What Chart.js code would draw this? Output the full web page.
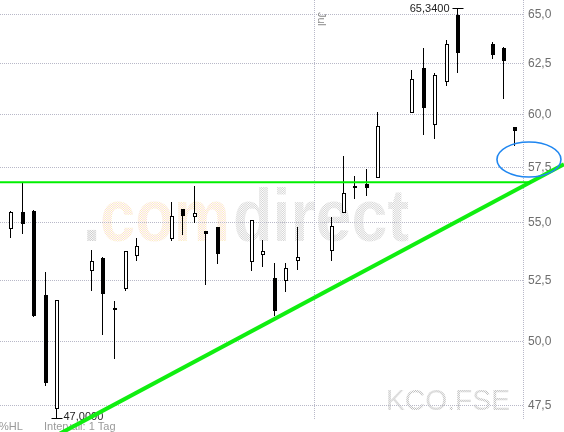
<!DOCTYPE html>
<html><head><meta charset="utf-8">
<script src="https://cdn.jsdelivr.net/npm/chart.js@4"></script>
<style>html,body{margin:0;padding:0;background:#fff;overflow:hidden}canvas{display:block}</style>
</head><body>
<canvas id="c" width="564" height="432"></canvas>
<script>
// ---- data ----
const dates = ['2007-06-04','2007-06-05','2007-06-06','2007-06-07','2007-06-08',
  '2007-06-11','2007-06-12','2007-06-13','2007-06-14','2007-06-15',
  '2007-06-18','2007-06-19','2007-06-20','2007-06-21','2007-06-22',
  '2007-06-25','2007-06-26','2007-06-27','2007-06-28','2007-06-29',
  '2007-07-02','2007-07-03','2007-07-04','2007-07-05','2007-07-06',
  '2007-07-09','2007-07-10','2007-07-11','2007-07-12','2007-07-13',
  '2007-07-16','2007-07-17','2007-07-18'];
const open  = [54.72,55.48,55.50,51.90,47.37, 52.91,53.47,51.37,52.16,53.55, 54.29,55.61,55.26,54.64,54.81, 53.30,53.60,52.62,52.49,53.34, 53.77,55.43,56.64,56.74,57.01, 60.05,62.26,59.48,61.57,64.96, 63.47,63.27,59.39];
const high  = [55.50,56.78,55.55,52.87,51.70, 53.81,53.50,51.66,53.77,54.33, 55.93,55.61,56.64,54.64,54.81, 55.12,54.24,53.25,53.25,54.81, 55.26,58.02,57.10,57.42,60.11, 62.16,63.27,62.02,63.67,65.34, 63.57,63.30,59.39];
const low   = [54.33,54.50,51.00,48.26,47.00, 52.07,50.27,49.32,52.07,53.34, 54.20,54.46,54.99,52.33,53.21, 52.91,53.08,51.04,52.03,52.96, 53.34,55.43,56.06,56.19,57.01, 60.05,59.01,58.82,61.37,62.02, 62.71,60.73,58.49];
const close = [55.49,54.95,51.05,48.37,51.70, 53.34,51.95,51.28,53.77,53.98, 55.30,55.30,55.43,54.50,53.64, 55.12,53.77,51.24,53.04,53.51, 54.85,56.33,56.55,56.55,59.44, 61.71,60.30,61.91,63.47,63.02, 62.92,62.61,59.20];
const yTicks = [47.5, 50, 52.5, 55, 57.5, 60, 62.5, 65];
const monthLabel = 'Jul';
const monthStart = '2007-07-01';
const symbol = 'KCO.FSE';
// drawn lines (x in days after first date)
const resistX = [-0.96, 45.40];
const resistY = [56.82, 56.82];
const trendX = [4.28, 48.28];
const trendY = [46.45, 57.64];
const circleX = 45.22, circleY = 57.86;

// ---- derived ----
const DAY = 86400000;
const dayOf = d => (Date.parse(d) - Date.parse(dates[0])) / DAY;
const xs = dates.map(dayOf);
const julX = dayOf(monthStart) - 0.5;
const xMin = -0.96, xMax = 44.70, yMin = 46.96, yMax = 65.75;
const fmt = (v, n) => v.toFixed(n).replace('.', ',');

const FONT = '"Liberation Sans", Arial, Helvetica, sans-serif';
Chart.defaults.font.family = FONT;

function dotPattern(ctx, c1, c2) {
  const p = document.createElement('canvas'); p.width = 2; p.height = 2;
  const g = p.getContext('2d');
  g.fillStyle = c1; g.fillRect(0, 0, 1, 1);
  g.fillStyle = c2 || c1; g.fillRect(1, 1, 1, 1);
  return ctx.createPattern(p, 'repeat');
}

const decor = {
  id: 'decor',
  afterDatasetsUpdate(chart) {
    // pixel-snap candle elements for crisp 1px wicks
    chart.data.datasets.forEach((ds, i) => {
      if (ds.type !== 'bar') return;
      const wick = ds.barThickness === 1;
      chart.getDatasetMeta(i).data.forEach(el => {
        const n = Math.floor(el.x);
        el.x = wick ? n + 0.5 : n + 1;
        el.y = Math.round(el.y); el.base = Math.round(el.base);
        if (el.base === el.y) el.base = el.y + 1;
      });
    });
  },
  beforeDraw(chart) {
    const ctx = chart.ctx;
    ctx.save();
    ctx.fillStyle = '#fff'; ctx.fillRect(0, 0, chart.width, chart.height);
    ctx.textBaseline = 'alphabetic'; ctx.textAlign = 'left';
    ctx.font = 'bold 74px ' + FONT;
    const gray = dotPattern(ctx, '#d4d4d4');
    const yel = dotPattern(ctx, '#fbeabc', '#fbdcd6');
    ctx.fillStyle = dotPattern(ctx, '#c8c8c8'); ctx.fillText('.', 83, 241, 17.5);
    ctx.fillStyle = yel; ctx.fillText('com', 100, 241, 130);
    ctx.fillStyle = gray; ctx.fillText('direct', 233, 241, 176);
    ctx.font = '29px ' + FONT;
    ctx.fillStyle = dotPattern(ctx, '#bcbcbc');
    ctx.fillText(symbol, 386, 409.5, 124);
    ctx.restore();
  },
  beforeDatasetsDraw(chart) {
    const ctx = chart.ctx, sx = chart.scales.x, sy = chart.scales.y;
    ctx.save();
    ctx.font = '11px ' + FONT;
    ctx.textBaseline = 'middle';
    // high label
    let hi = high.indexOf(Math.max(...high));
    let px = Math.floor(sx.getPixelForValue(xs[hi])) + 0.5;
    let py = Math.round(sy.getPixelForValue(high[hi])) + 0.5;
    ctx.strokeStyle = '#000'; ctx.lineWidth = 1;
    ctx.beginPath(); ctx.moveTo(px - 5, py); ctx.lineTo(px + 6, py); ctx.stroke();
    ctx.fillStyle = '#222'; ctx.textAlign = 'right';
    ctx.fillText(fmt(high[hi], 4), px - 8, py);
    // low label
    let lo = low.indexOf(Math.min(...low));
    px = Math.floor(sx.getPixelForValue(xs[lo])) + 0.5;
    py = Math.round(sy.getPixelForValue(low[lo])) - 0.5;
    ctx.beginPath(); ctx.moveTo(px - 5, py); ctx.lineTo(px + 6, py); ctx.stroke();
    ctx.textAlign = 'left';
    ctx.fillText(fmt(low[lo], 4), px + 7, py - 1.5);
    // month label
    ctx.save();
    ctx.fillStyle = '#888';
    ctx.textBaseline = 'alphabetic';
    ctx.translate(sx.getPixelForValue(julX) + 3.5, 12);
    ctx.rotate(Math.PI / 2);
    ctx.fillText(monthLabel, 0, 0);
    ctx.restore();
    // footer
    ctx.fillStyle = '#9a9a9a'; ctx.textBaseline = 'alphabetic';
    ctx.fillText('%HL', -1, 429.5);
    ctx.fillText('Intervall: 1 Tag', 44, 429.5);
    ctx.restore();
  },
  afterDraw(chart) {
    const ctx = chart.ctx, sx = chart.scales.x, sy = chart.scales.y;
    ctx.save();
    ctx.strokeStyle = '#1f86f0'; ctx.lineWidth = 1.6;
    ctx.beginPath();
    ctx.ellipse(sx.getPixelForValue(circleX), sy.getPixelForValue(circleY), 32, 17.5, 0, 0, Math.PI * 2);
    ctx.stroke();
    ctx.restore();
  }
};

const gridColor = '#b8b8c8';
new Chart(document.getElementById('c'), {
  type: 'bar',
  data: {
    datasets: [
      { type: 'line', data: resistX.map((x, i) => ({ x, y: resistY[i] })), borderColor: '#00f000', borderWidth: 2,
        pointRadius: 0, pointHoverRadius: 0, pointHitRadius: 0, clip: false, order: 1, tension: 0 },
      { type: 'line', data: trendX.map((x, i) => ({ x, y: trendY[i] })), borderColor: '#10ee10', borderWidth: 4,
        pointRadius: 0, pointHoverRadius: 0, pointHitRadius: 0, clip: false, order: 1, tension: 0 },
      { type: 'bar', data: xs.map((x, i) => ({ x, y: [open[i], close[i]] })),
        backgroundColor: xs.map((x, i) => close[i] >= open[i] ? '#ffffff' : '#000000'),
        borderColor: '#000', borderWidth: 1, borderSkipped: false, barThickness: 4, inflateAmount: 0,
        grouped: false, order: 2 },
      { type: 'bar', data: xs.map((x, i) => ({ x, y: [low[i], high[i]] })),
        backgroundColor: '#000', borderWidth: 0, barThickness: 1, inflateAmount: 0, grouped: false, order: 3 }
    ]
  },
  options: {
    responsive: false, animation: false, events: [],
    layout: { padding: 0, autoPadding: false },
    plugins: { legend: { display: false }, tooltip: { enabled: false } },
    scales: {
      x: {
        type: 'linear', min: xMin, max: xMax, offset: false, bounds: 'data',
        afterBuildTicks: s => { s.ticks = [{ value: julX }, { value: xMax }]; },
        afterFit: s => { s.height = 12; s.paddingLeft = 0; s.paddingRight = 0; },
        ticks: { display: false },
        grid: { offset: false, color: gridColor, drawTicks: false, lineWidth: 1 },
        border: { display: false, dash: [1, 1] }
      },
      y: {
        type: 'logarithmic', position: 'right', min: yMin, max: yMax, bounds: 'data', beginAtZero: false,
        afterBuildTicks: s => { s.ticks = [yMin, ...yTicks, yMax].map(v => ({ value: v })); },
        afterFit: s => { s.width = 41; s.paddingTop = 0; s.paddingBottom = 0; },
        ticks: {
          callback: v => yTicks.includes(v) ? fmt(v, 1) : null,
          color: '#6e6e6e', font: { size: 12 }, padding: 5, autoSkip: false
        },
        grid: { color: c => (c.tick && c.tick.value === yMax) ? 'rgba(0,0,0,0)' : gridColor, drawTicks: false, lineWidth: 1 },
        border: { display: false, dash: [1, 1] }
      }
    }
  },
  plugins: [decor]
});
</script>
</body></html>
